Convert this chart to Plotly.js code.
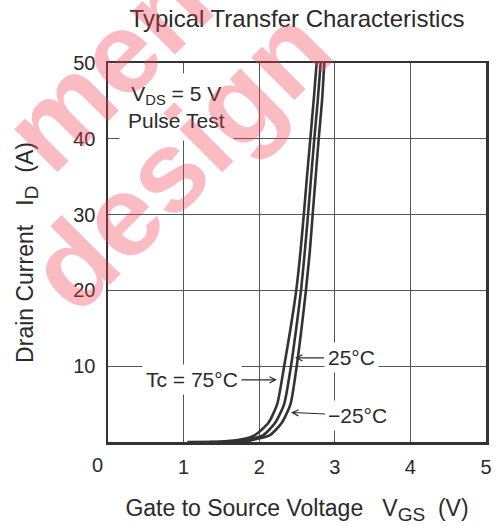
<!DOCTYPE html>
<html>
<head>
<meta charset="utf-8">
<script src="https://cdn.plot.ly/plotly-3.0.1.min.js"></script>
<style>
  html, body { margin: 0; padding: 0; background: #fff; }
  #chart { width: 497px; height: 526px; }
</style>
</head>
<body>
<div id="chart"></div>
<script>
// Drain current ID (A) vs gate-source voltage VGS (V), VDS = 5 V, pulse test
const idValues = [0, 0.05, 0.35, 0.92, 2.5, 5, 10, 15, 20, 25, 30, 35, 40, 45, 50];
const vgsTc75 = [1.05, 1.50, 1.768, 1.944, 2.12, 2.238, 2.33, 2.415, 2.49, 2.545, 2.59, 2.632, 2.676, 2.72, 2.76];
const vgsTc25 = [1.35, 1.70, 1.856, 2.055, 2.209, 2.33, 2.42, 2.49, 2.553, 2.602, 2.646, 2.687, 2.729, 2.774, 2.813];
const vgsTcM25 = [1.60, 1.82, 1.944, 2.143, 2.297, 2.414, 2.496, 2.56, 2.618, 2.668, 2.707, 2.747, 2.787, 2.831, 2.861];

const xTickVals = [1, 2, 3, 4, 5];
const xTickText = ['1', '2', '3', '4', '5'];
const yTickVals = [10, 20, 30, 40, 50];
const yTickText = ['10', '20', '30', '40', '50'];

const FONT = 'Liberation Sans, Arial, sans-serif';
const INK = '#2a2a2a';
const NB = '\u00A0';

function curve(xs, name) {
  return {
    x: xs, y: idValues, name: name, type: 'scatter', mode: 'lines',
    line: { color: '#333', width: 2.6, shape: 'spline', smoothing: 0.6 },
    hoverinfo: 'skip', showlegend: false
  };
}

const traces = [
  curve(vgsTc75, 'Tc = 75°C'),
  curve(vgsTc25, '25°C'),
  curve(vgsTcM25, '−25°C')
];

const axisCommon = {
  showline: true, mirror: true, linecolor: '#333', linewidth: 2.5,
  showgrid: true, gridcolor: '#555', gridwidth: 1,
  zeroline: false, ticks: '', fixedrange: true,
  tickfont: { family: FONT, size: 20, color: INK }
};

const subStyle = 'font-size:19px';

const layout = {
  width: 497, height: 526,
  margin: { l: 108, r: 11, t: 63, b: 84 },
  paper_bgcolor: '#fff', plot_bgcolor: '#fff',
  showlegend: false,
  title: {
    text: 'Typical Transfer Characteristics',
    font: { family: FONT, size: 24, color: INK },
    x: 0.5, xref: 'paper', xanchor: 'center',
    y: 1 - 19 / 526, yref: 'container', yanchor: 'middle'
  },
  xaxis: Object.assign({}, axisCommon, {
    range: [0, 5], dtick: 0.5, tick0: 0,
    tickmode: 'array', tickvals: xTickVals, ticktext: xTickText,
    ticklabelstandoff: 5,
    title: { text: 'Gate to Source Voltage' + NB + NB + NB + 'V<sub><span style="' + subStyle + '">GS</span></sub>' + NB + NB + '(V)',
             font: { family: FONT, size: 23, color: INK }, standoff: 24 }
  }),
  yaxis: Object.assign({}, axisCommon, {
    range: [0, 50],
    tickmode: 'array', tickvals: yTickVals, ticktext: yTickText,
    ticklabelstandoff: 6,
    title: { text: 'Drain Current' + NB + NB + NB + 'I<sub><span style="' + subStyle + '">D</span></sub>' + NB + NB + '(A)',
             font: { family: FONT, size: 23, color: INK }, standoff: 33 }
  }),
  annotations: [
    { text: '0', xref: 'paper', yref: 'paper', x: -11 / 378, y: -23 / 379,
      xanchor: 'center', yanchor: 'middle', showarrow: false,
      font: { family: FONT, size: 20, color: INK } },
    { text: 'V<sub>DS</sub> = 5 V<br>Pulse Test', xref: 'paper', yref: 'paper',
      x: 68 / 378, y: (442 - 107) / 379, xanchor: 'center', yanchor: 'middle',
      align: 'center', showarrow: false, bgcolor: '#fff', borderpad: 8,
      font: { family: FONT, size: 21, color: INK } },
    { text: 'Tc = 75°C', xref: 'x', yref: 'y', x: 2.235, y: 8.2,
      ax: -85, ay: 0, showarrow: true, arrowhead: 5, arrowsize: 1.1, arrowwidth: 1.1,
      arrowcolor: INK, standoff: 0, bgcolor: '#fff', borderpad: 3,
      font: { family: FONT, size: 21, color: INK } },
    { text: '25°C', xref: 'x', yref: 'y', x: 2.474, y: 11.1,
      ax: 56, ay: 0, showarrow: true, arrowhead: 5, arrowsize: 1.1, arrowwidth: 1.1,
      arrowcolor: INK, standoff: 0, bgcolor: '#fff', borderpad: 3,
      font: { family: FONT, size: 21, color: INK } },
    { text: '−25°C', xref: 'x', yref: 'y', x: 2.42, y: 3.9,
      ax: 67, ay: 3, showarrow: true, arrowhead: 5, arrowsize: 1.1, arrowwidth: 1.1,
      arrowcolor: INK, standoff: 0, bgcolor: '#fff', borderpad: 3,
      font: { family: FONT, size: 21, color: INK } },
    // watermark
    { text: '<b>men</b>', xref: 'paper', yref: 'paper', x: (107 - 108) / 378, y: (442 - 66) / 379,
      xanchor: 'center', yanchor: 'middle', showarrow: false, textangle: -45,
      font: { family: FONT, size: 115, color: 'rgba(240,60,80,0.35)' } },
    { text: '<b>design</b>', xref: 'paper', yref: 'paper', x: (179 - 108) / 378, y: (442 - 159) / 379,
      xanchor: 'center', yanchor: 'middle', showarrow: false, textangle: -45,
      font: { family: FONT, size: 115, color: 'rgba(240,60,80,0.35)' } }
  ]
};

Plotly.newPlot('chart', traces, layout, { displayModeBar: false, staticPlot: true });
</script>
</body>
</html>
